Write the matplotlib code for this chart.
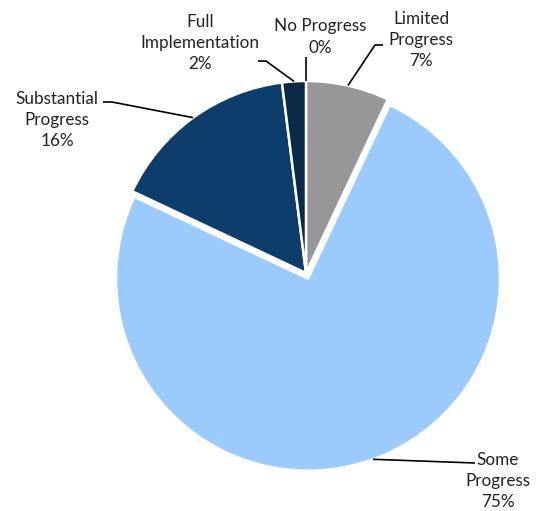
import numpy as np
import matplotlib
matplotlib.use("Agg")
import matplotlib.pyplot as plt

categories = ["No Progress", "Limited\nProgress", "Some\nProgress",
              "Substantial\nProgress", "Full\nImplementation"]
shares = [0, 7, 75, 16, 2]
colors = ["#7f7f7f", "#979797", "#9bcbfd", "#0d3d6b", "#0b2a4a"]

W, H = 537, 511
cx, cy, r = 306, H - 273, 192
explode = [0, 0, 6, 0, 0]

fig = plt.figure(figsize=(W / 100, H / 100), dpi=100)
ax = fig.add_axes([0, 0, 1, 1])

wedges, _ = ax.pie(shares, colors=colors, startangle=90, counterclock=False,
                   center=(cx, cy), radius=r, explode=explode,
                   wedgeprops=dict(edgecolor="white", linewidth=1.8))

ax.set_xlim(0, W)
ax.set_ylim(0, H)
ax.set_aspect("equal")
ax.axis("off")

# label positions (pixel coords from top) and leader elbows
label_pos = [(320, 37), (421, 40), (498, 481), (57, 120), (200, 43)]
elbows = [None, [(375, 45), (383, 45)], [(475, 463)],
          [(112, 102), (103, 102)], [(266, 61), (258, 61)]]

for i, (w, lab, val) in enumerate(zip(wedges, categories, shares)):
    ang = np.deg2rad((w.theta1 + w.theta2) / 2)
    wx, wy = w.center
    ax_ = wx + r * np.cos(ang)
    ay_ = wy + r * np.sin(ang)
    lx, ly = label_pos[i]
    if elbows[i] is None:
        pts = [(ax_, ay_), (ax_, H - 57)]
    else:
        pts = [(ax_, ay_)] + [(px, H - py) for px, py in elbows[i]]
    xs, ys = zip(*pts)
    ax.plot(xs, ys, color="black", lw=1.2, solid_capstyle="butt")
    ax.text(lx, H - ly, f"{lab}\n{val}%", ha="center", va="center",
            fontsize=12.3, family="Lato", color="#222222", linespacing=1.4)

fig.savefig("out.png", dpi=100)
